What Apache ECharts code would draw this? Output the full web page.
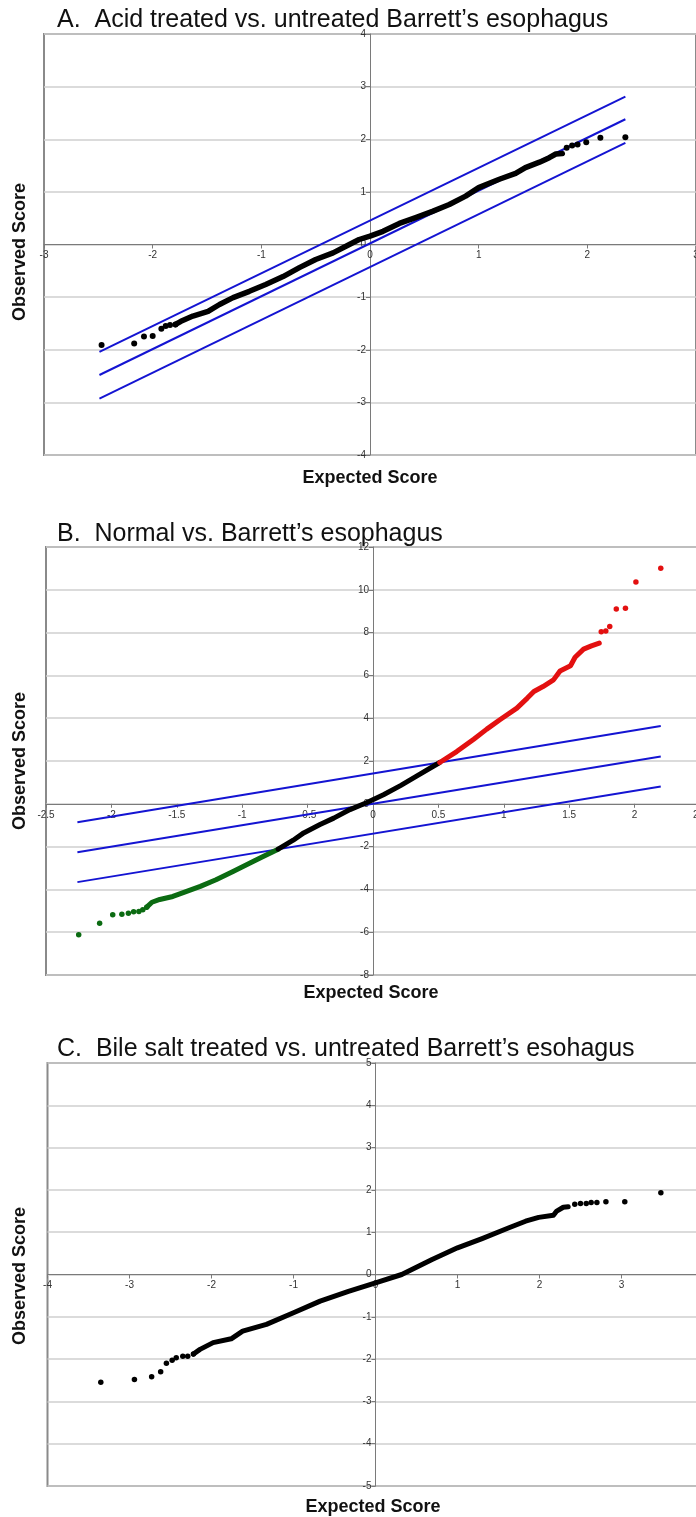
<!DOCTYPE html>
<html>
<head>
<meta charset="utf-8">
<script src="https://cdn.jsdelivr.net/npm/echarts@6/dist/echarts.min.js"></script>
<style>
html,body{margin:0;padding:0;background:#fff;overflow:hidden;}
#chart{width:696px;height:1517px;}
</style>
</head>
<body>
<div id="chart"></div>
<script>
// ---------- Panel A: Acid treated vs. untreated ----------
const A_tailLow = [[-2.47,-1.91],[-2.17,-1.88],[-2.08,-1.75],[-2.00,-1.74],[-1.92,-1.60],[-1.88,-1.55],[-1.84,-1.53],[-1.79,-1.52]];
const A_curve = [[-1.79,-1.52],[-1.74,-1.46],[-1.63,-1.36],[-1.49,-1.27],[-1.385,-1.14],[-1.26,-1.01],[-1.11,-0.89],[-0.96,-0.76],[-0.80,-0.61],[-0.65,-0.44],[-0.50,-0.285],[-0.34,-0.16],[-0.19,0.0],[-0.10,0.095],[0,0.16],[0.12,0.25],[0.27,0.40],[0.42,0.51],[0.575,0.63],[0.73,0.76],[0.88,0.92],[1.0,1.08],[1.19,1.24],[1.34,1.35],[1.43,1.46],[1.56,1.565],[1.65,1.65],[1.71,1.72],[1.77,1.73]];
const A_tailHigh = [[1.81,1.84],[1.86,1.88],[1.91,1.90],[1.99,1.945],[2.12,2.03],[2.35,2.04]];
const A_upper = [[-2.49,-2.04],[2.35,2.81]];
const A_mid   = [[-2.49,-2.48],[2.35,2.38]];
const A_lower = [[-2.49,-2.93],[2.35,1.93]];

// ---------- Panel B: Normal vs. Barrett's ----------
const B_greenTail = [[-2.25,-6.12],[-2.09,-5.58],[-1.99,-5.19],[-1.92,-5.16],[-1.87,-5.11],[-1.83,-5.04],[-1.79,-5.03],[-1.76,-4.95],[-1.73,-4.83]];
const B_greenCurve = [[-1.73,-4.83],[-1.69,-4.60],[-1.63,-4.47],[-1.53,-4.33],[-1.43,-4.10],[-1.32,-3.86],[-1.20,-3.55],[-1.07,-3.16],[-0.94,-2.77],[-0.84,-2.46],[-0.725,-2.12]];
const B_blackCurve = [[-0.725,-2.12],[-0.61,-1.70],[-0.53,-1.36],[-0.405,-0.97],[-0.30,-0.67],[-0.176,-0.27],[-0.05,0.05],[0.08,0.42],[0.21,0.85],[0.33,1.28],[0.51,1.93]];
const B_redCurve = [[0.51,1.93],[0.64,2.44],[0.77,3.02],[0.87,3.49],[0.97,3.93],[1.10,4.47],[1.18,4.94],[1.23,5.25],[1.30,5.48],[1.38,5.79],[1.43,6.21],[1.51,6.45],[1.545,6.85],[1.61,7.23],[1.67,7.38],[1.73,7.51]];
const B_redTail = [[1.745,8.04],[1.78,8.08],[1.81,8.29],[1.86,9.10],[1.93,9.14],[2.01,10.37],[2.20,11.01]];
const B_upper = [[-2.26,-0.86],[2.20,3.64]];
const B_mid   = [[-2.26,-2.26],[2.20,2.21]];
const B_lower = [[-2.26,-3.66],[2.20,0.81]];

// ---------- Panel C: Bile salt treated vs. untreated ----------
const C_tailLow = [[-3.35,-2.55],[-2.94,-2.48],[-2.73,-2.42],[-2.62,-2.30],[-2.55,-2.10],[-2.48,-2.03],[-2.43,-1.97],[-2.35,-1.93],[-2.29,-1.93],[-2.22,-1.88]];
const C_curve = [[-2.22,-1.88],[-2.14,-1.77],[-1.98,-1.61],[-1.76,-1.52],[-1.62,-1.34],[-1.33,-1.18],[-1.0,-0.905],[-0.675,-0.63],[-0.33,-0.40],[0,-0.2],[0.32,0],[0.69,0.355],[1.0,0.63],[1.30,0.85],[1.62,1.10],[1.83,1.26],[1.99,1.35],[2.17,1.40],[2.21,1.50],[2.29,1.59],[2.35,1.60]];
const C_tailHigh = [[2.43,1.66],[2.50,1.68],[2.57,1.68],[2.63,1.70],[2.70,1.70],[2.81,1.72],[3.04,1.72],[3.48,1.93]];

// ---------- texts ----------
const titles = ["A.  Acid treated vs. untreated Barrett\u2019s esophagus",
                "B.  Normal vs. Barrett\u2019s esophagus",
                "C.  Bile salt treated vs. untreated Barrett\u2019s esohagus"];
const xName = "Expected Score";
const yName = "Observed Score";
const xRanges = [[-3,3,1],[-2.5,2.5,0.5],[-4,4,1]];
const yRanges = [[-4,4,1],[-8,12,2],[-5,5,1]];

const FONT = '"Liberation Sans", Arial, sans-serif';
const BLUE = '#1414d2';
const GREEN = '#0b6b12';
const RED = '#e31010';

const grids = [
  {left:44, top:34, width:652, height:421},
  {left:46, top:547, width:654, height:428},
  {left:47.5, top:1063, width:656, height:423}
];

// place each axis on the other's zero (Excel style) via pixel offsets from the grid edge
function zeroOffsets(i){
  const g = grids[i], xr = xRanges[i], yr = yRanges[i];
  const xZeroFromLeft = g.width * (0 - xr[0]) / (xr[1] - xr[0]);
  const yZeroFromBottom = g.height * (0 - yr[0]) / (yr[1] - yr[0]);
  return {x: -yZeroFromBottom, y: -xZeroFromLeft};
}

function xAx(i){
  const r = xRanges[i];
  return {type:'value', gridIndex:i, min:r[0], max:r[1], interval:r[2],
    position:'bottom', offset: zeroOffsets(i).x,
    axisLine:{show:true, onZero:false, lineStyle:{color:'#7a7a7a', width:1}},
    axisTick:{show:true, length:4, lineStyle:{color:'#7a7a7a'}},
    axisLabel:{fontSize:10, color:'#333', margin:6, fontFamily:FONT, showMinLabel:true, showMaxLabel:true},
    splitLine:{show:false}};
}
function yAx(i){
  const r = yRanges[i];
  return {type:'value', gridIndex:i, min:r[0], max:r[1], interval:r[2],
    position:'left', offset: zeroOffsets(i).y,
    axisLine:{show:true, onZero:false, lineStyle:{color:'#7a7a7a', width:1}},
    axisTick:{show:true, length:4, lineStyle:{color:'#7a7a7a'}},
    axisLabel:{fontSize:10, color:'#333', margin:4, fontFamily:FONT, showMinLabel:true, showMaxLabel:true},
    splitLine:{show:true, lineStyle:{color:'#cfcfcf', width:1.5}}};
}
function refLine(i, data){
  return {type:'line', xAxisIndex:i, yAxisIndex:i, data:data, symbol:'none',
    lineStyle:{color:BLUE, width:2}, z:2, silent:true};
}
function curve(i, data, color, w){
  return {type:'line', xAxisIndex:i, yAxisIndex:i, data:data, symbol:'none',
    lineStyle:{color:color, width:w, cap:'round', join:'round', opacity:1}, z:3, silent:true};
}
function dots(i, data, color, s){
  return {type:'scatter', xAxisIndex:i, yAxisIndex:i, data:data, symbolSize:s,
    itemStyle:{color:color, opacity:1}, z:4, silent:true};
}

const titleY = [20, 534, 1049];
const xNameY = [478, 993, 1507];
const xNameX = [370, 371, 373];
const yNameY = [252, 761, 1276];

const graphic = [];
for (let i=0;i<3;i++){
  graphic.push({type:'text', x:57, y:titleY[i],
    style:{text:titles[i], font:'25px '+FONT, fill:'#111', align:'left', verticalAlign:'middle'}});
  graphic.push({type:'text', x:xNameX[i], y:xNameY[i],
    style:{text:xName, font:'bold 18px '+FONT, fill:'#111', align:'center', verticalAlign:'middle'}});
  graphic.push({type:'text', x:20, y:yNameY[i], rotation:Math.PI/2,
    style:{text:yName, font:'bold 18px '+FONT, fill:'#111', align:'center', verticalAlign:'middle'}});
}

const option = {
  animation:false,
  backgroundColor:'#fff',
  grid: grids.map(g => Object.assign({show:true, borderColor:'#8a8a8a', borderWidth:2, backgroundColor:'transparent', containLabel:false, outerBoundsMode:'none'}, g)),
  xAxis:[xAx(0), xAx(1), xAx(2)],
  yAxis:[yAx(0), yAx(1), yAx(2)],
  graphic: graphic,
  series:[
    refLine(0, A_upper), refLine(0, A_mid), refLine(0, A_lower),
    curve(0, A_curve, '#000', 5.5),
    dots(0, A_tailLow, '#000', 6), dots(0, A_tailHigh, '#000', 6),

    refLine(1, B_upper), refLine(1, B_mid), refLine(1, B_lower),
    curve(1, B_greenCurve, GREEN, 5), curve(1, B_blackCurve, '#000', 5), curve(1, B_redCurve, RED, 5),
    dots(1, B_greenTail, GREEN, 5.5), dots(1, B_redTail, RED, 5.5),

    curve(2, C_curve, '#000', 5),
    dots(2, C_tailLow, '#000', 5.5), dots(2, C_tailHigh, '#000', 5.5)
  ]
};

const chart = echarts.init(document.getElementById('chart'), null, {renderer:'canvas'});
chart.setOption(option);
</script>
</body>
</html>
